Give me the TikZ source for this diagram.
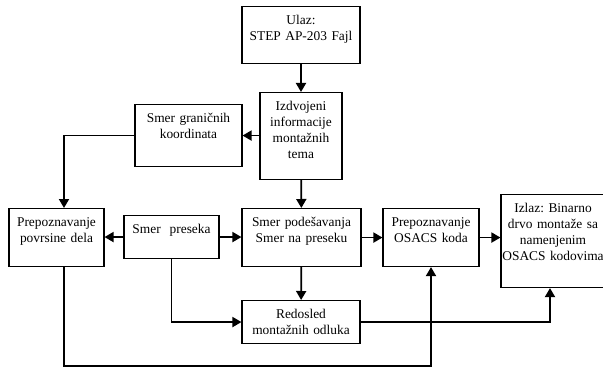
\documentclass[tikz,border=0pt]{standalone}
\usepackage{fontspec}
\setmainfont{Liberation Serif}
\usetikzlibrary{arrows.meta,calc}
\frenchspacing

\begin{document}
\begin{tikzpicture}[x=1pt,y=-1pt,
                box node/.style={draw, line width=1.1pt, inner sep=0pt, align=center,
                  text height=18pt, font=\fontsize{13.4}{16}\selectfont, anchor=north},
                arrow line/.style={line width=1.8pt, -{Triangle[length=9pt,width=10pt]}}]

  \useasboundingbox (0,0) rectangle (603,369);

  \node[box node, text width=118pt, text depth=39pt] (ulaz) at (301,6) {Ulaz:\\STEP AP-203 Fajl};
  \node[box node, text width=82pt, text depth=69pt] (izdv) at (301,92) {Izdvojeni\\informacije\\montažnih\\tema};
  \node[box node, text width=107pt, text depth=44pt] (granic) at (188.5,104) {Smer graničnih\\koordinata};
  \node[box node, text width=95pt, text depth=40pt] (povrs) at (56.5,208) {Prepoznavanje\\povrsine dela};
  \node[box node, text width=95pt, text depth=25pt] (presek) at (171.5,215) {Smer~ preseka};
  \node[box node, text width=119pt, text depth=40pt] (podes) at (301.5,208) {Smer podešavanja\\Smer na preseku};
  \node[box node, text width=96pt, text depth=40pt] (osacs) at (431,208) {Prepoznavanje\\OSACS koda};
  \node[box node, text width=104pt, text depth=75pt] (izlaz) at (553,194) {Izlaz: Binarno\\drvo montaže sa\\namenjenim\\OSACS kodovima};
  \node[box node, text width=118pt, text depth=25pt] (redosled) at (301,300) {Redosled\\montažnih odluka};

  \coordinate (lowline) at (0,366);

  \draw[arrow line] (ulaz) -- (izdv);
  \draw[arrow line] (izdv.west |- granic.east) -- (granic.east);
  \draw[arrow line] (granic.west) -| ([xshift=7.5pt]povrs.north);
  \draw[arrow line] (izdv) -- (podes);
  \draw[arrow line] (presek.west) -- (presek.west -| povrs.east);
  \draw[arrow line] (presek.east) -- (presek.east -| podes.west);
  \draw[arrow line] (presek.south) |- (redosled.west);
  \draw[arrow line] (podes) -- (redosled);
  \draw[arrow line] (podes.east) -- (osacs.west);
  \draw[arrow line] (osacs.east) -- (osacs.east -| izlaz.west);
  \draw[arrow line] (redosled.east) -| ([xshift=-3pt]izlaz.south);
  \draw[arrow line] ([xshift=7.5pt]povrs.south) |- (lowline -| osacs.south) -- (osacs.south);
\end{tikzpicture}
\end{document}
